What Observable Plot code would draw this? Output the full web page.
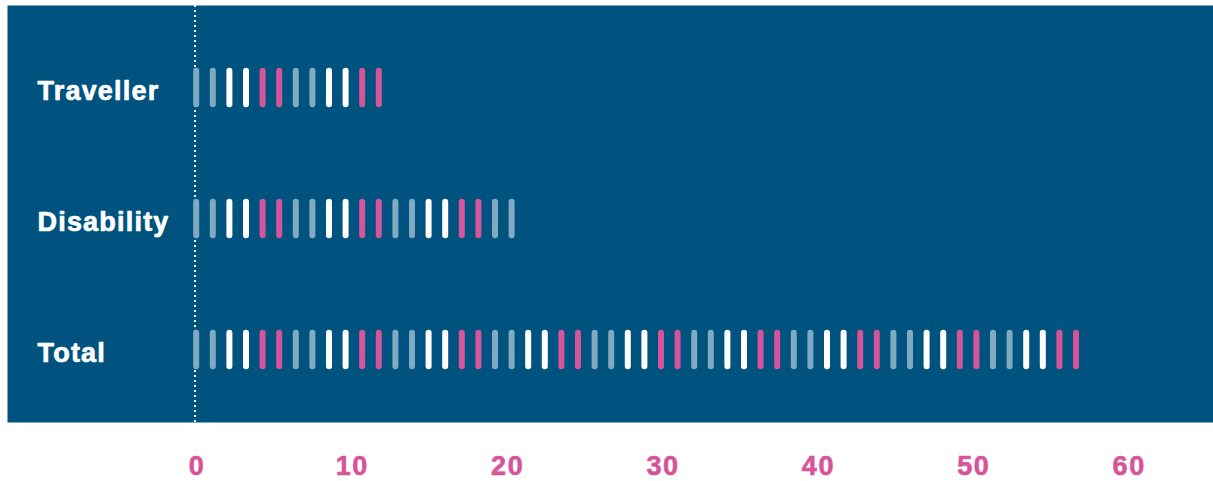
<!DOCTYPE html>
<html>
<head>
<meta charset="utf-8">
<script src="https://cdn.jsdelivr.net/npm/d3@7"></script>
<script src="https://cdn.jsdelivr.net/npm/@observablehq/plot@0.6"></script>
<style>
  html, body { margin: 0; padding: 0; background: #ffffff; }
  #chart { position: relative; width: 1213px; height: 481px; }
  #chart svg { display: block; }
  #chart svg.axis { position: absolute; left: 0; top: 410px; }
</style>
</head>
<body>
<div id="chart"></div>
<script>
// Data
const categories = ["Traveller", "Disability", "Total"];
const counts = [12, 20, 54];
const tickValues = [0, 10, 20, 30, 40, 50, 60];

// Styling
const bg = "#00527f";
const palette = ["#80a9c2", "#80a9c2", "#ffffff", "#ffffff", "#d6559a", "#d6559a"];
const font = "'Liberation Sans', Arial, Helvetica, sans-serif";

// One unit mark per counted item
const units = categories.flatMap((c, k) => d3.range(counts[k]).map(i => ({cat: c, i})));

const main = Plot.plot({
  width: 1213,
  height: 425,
  marginLeft: 7,
  marginRight: 0,
  marginTop: 5,
  marginBottom: 3,
  style: {fontFamily: font, background: "transparent"},
  x: {domain: [-11.367, 61.283], axis: null},
  y: {domain: categories, type: "band", range: [21, 415.2], padding: 0, axis: null},
  color: {type: "identity"},
  marks: [
    Plot.frame({fill: bg, stroke: null}),
    Plot.ruleX([0], {stroke: "#ffffff", strokeWidth: 2, strokeDasharray: "2,3", dx: -1.2}),
    Plot.tickX(units, {
      x: "i", y: "cat",
      stroke: d => palette[d.i % palette.length],
      strokeWidth: 6, strokeLinecap: "round",
      insetTop: 48.7, insetBottom: 48.7
    }),
    Plot.text(categories, {
      y: d => d, text: d => d,
      frameAnchor: "left", textAnchor: "start", dx: 30, dy: 3,
      fill: "#ffffff", stroke: "#ffffff", strokeWidth: 0.7,
      fontSize: 27, fontWeight: "bold",
      lineAnchor: "middle"
    })
  ]
});

const axis = Plot.plot({
  width: 1213,
  height: 71,
  marginLeft: 0,
  marginRight: 0,
  marginTop: 0,
  marginBottom: 0,
  style: {fontFamily: font, background: "transparent"},
  x: {domain: [0, 60], range: [196.5, 1128.7], axis: null},
  y: {axis: null},
  marks: [
    Plot.text(tickValues, {
      x: d => d, text: d => String(d),
      frameAnchor: "top", lineAnchor: "middle", dy: 55.5,
      fill: "#d6559a", stroke: "#d6559a", strokeWidth: 0.6,
      fontSize: 27, fontWeight: "bold"
    })
  ]
});
axis.classList.add("axis");

main.querySelectorAll("text").forEach(t => t.setAttribute("letter-spacing", "1.2"));
axis.querySelectorAll("text").forEach(t => t.setAttribute("letter-spacing", "1.6"));

document.getElementById("chart").append(main, axis);
</script>
</body>
</html>
